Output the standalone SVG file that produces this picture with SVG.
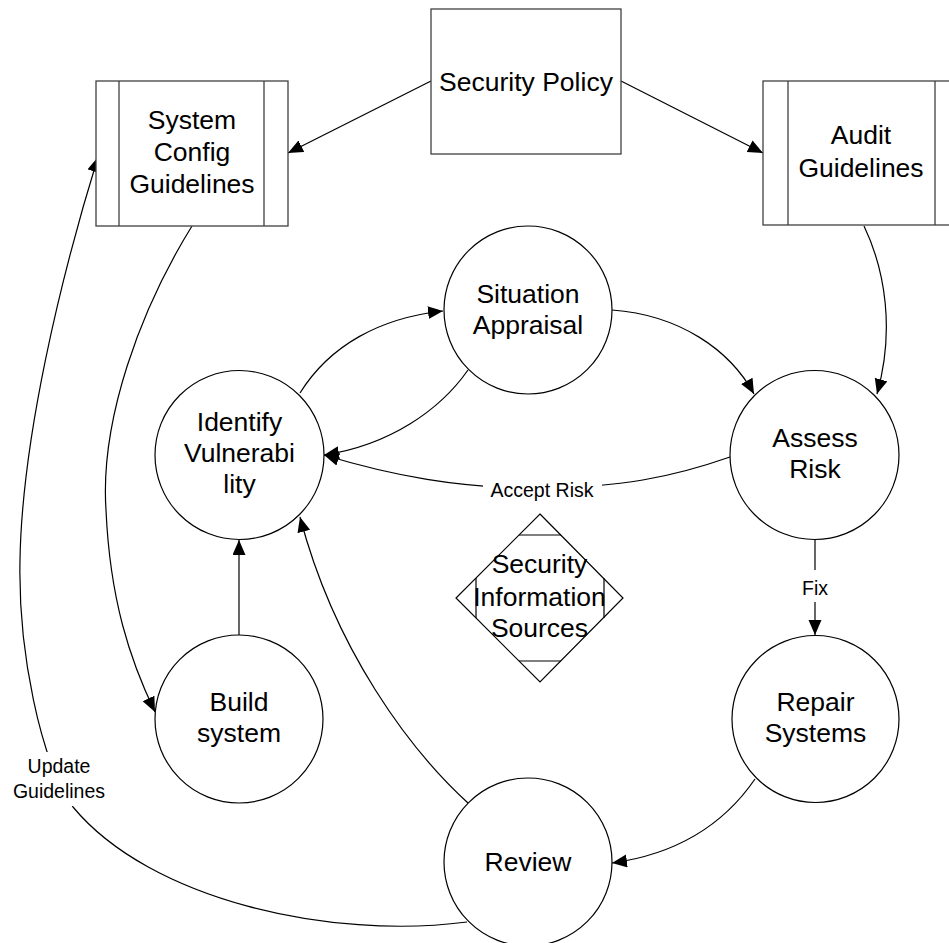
<svg xmlns="http://www.w3.org/2000/svg" width="949" height="943" viewBox="0 0 949 943">
<defs>
<style>
.box{fill:#fff;stroke:#404040;stroke-width:1.3}
.circ{fill:#fff;stroke:#000;stroke-width:1.2}
.t{font-family:"Liberation Sans",Arial,sans-serif;font-size:26.5px;fill:#000;text-anchor:middle}
.lbl{font-family:"Liberation Sans",Arial,sans-serif;font-size:19.5px;fill:#000;text-anchor:middle}
.c{fill:none;stroke:#000;stroke-width:1.2;marker-end:url(#arr)}
.plain{fill:none;stroke:#000;stroke-width:1.2}
</style>
<marker id="arr" markerUnits="userSpaceOnUse" markerWidth="16" markerHeight="14" refX="15" refY="6.5" orient="auto">
<path d="M0,0 L15,6.5 L0,13 z" fill="#000"/>
</marker>
</defs>
<rect width="949" height="943" fill="#fff"/>

<g id="connectors">
<path class="c" d="M431,81 L288,153"/>
<path class="c" d="M621,81 L763,153"/>
<path class="c" d="M192,226 C140,310 100,420 106,510 C110,600 130,660 155,712"/>
<path class="c" d="M864,226 C885,270 895,330 877,394"/>
<path class="c" d="M300,393 C330,345 380,318 443,311"/>
<path class="c" d="M468,370 C440,410 390,445 324,455"/>
<path class="c" d="M612,310 C680,315 730,350 754,394"/>
<path class="c" d="M730,457 C670,478 620,487 542,488 C460,489 390,475 324,455"/>
<path class="c" d="M815,540 L815,635"/>
<path class="c" d="M755,779 C720,830 670,855 612,863"/>
<path class="c" d="M468,803 C410,750 335,650 300,517"/>
<path class="c" d="M239,635 L239,540"/>
<path class="c" d="M467,922 C330,940 150,900 73,807 C40,760 18,650 20,560 C22,440 60,280 98,157"/>
<rect x="483" y="476" width="119" height="26" fill="#fff"/>
<text class="lbl" x="542" y="497">Accept Risk</text>
<rect x="803" y="570" width="25" height="32" fill="#fff"/>
<text class="lbl" x="815" y="595">Fix</text>
<rect x="8" y="752" width="102" height="54" fill="#fff"/>
<text class="lbl" x="59" y="773">Update</text>
<text class="lbl" x="59" y="798">Guidelines</text>
</g>

<g id="security-policy">
<rect class="box" x="431" y="9" width="190" height="145"/>
<text class="t" x="526" y="91">Security Policy</text>
</g>

<g id="system-config">
<rect class="box" x="96" y="81" width="192" height="145"/>
<line class="box" x1="119" y1="81" x2="119" y2="226"/>
<line class="box" x1="264" y1="81" x2="264" y2="226"/>
<text class="t" x="192" y="129">System</text>
<text class="t" x="192" y="161">Config</text>
<text class="t" x="192" y="193">Guidelines</text>
</g>

<g id="audit-guidelines">
<rect class="box" x="763" y="81" width="197" height="144"/>
<line class="box" x1="788" y1="81" x2="788" y2="225"/>
<line class="box" x1="935" y1="81" x2="935" y2="225"/>
<text class="t" x="861" y="144">Audit</text>
<text class="t" x="861" y="177">Guidelines</text>
</g>

<g id="situation-appraisal">
<circle class="circ" cx="528" cy="310" r="84"/>
<text class="t" x="528" y="303">Situation</text>
<text class="t" x="528" y="334">Appraisal</text>
</g>

<g id="identify-vulnerability">
<circle class="circ" cx="239.5" cy="455" r="84.5"/>
<text class="t" x="239.5" y="431">Identify</text>
<text class="t" x="239.5" y="462">Vulnerabi</text>
<text class="t" x="239.5" y="493">lity</text>
</g>

<g id="assess-risk">
<circle class="circ" cx="814.5" cy="455" r="84.5"/>
<text class="t" x="815" y="447">Assess</text>
<text class="t" x="815" y="478">Risk</text>
</g>

<g id="security-information-sources">
<polygon class="circ" points="540,514 623,598 540,682 456,598"/>
<line class="circ" x1="519" y1="535" x2="561" y2="535"/>
<line class="circ" x1="519" y1="661" x2="561" y2="661"/>
<line class="circ" x1="476" y1="578" x2="476" y2="618"/>
<line class="circ" x1="604" y1="578" x2="604" y2="618"/>
<text class="t" x="539.5" y="573">Security</text>
<text class="t" x="539.5" y="606">Information</text>
<text class="t" x="539.5" y="637">Sources</text>
</g>

<g id="build-system">
<circle class="circ" cx="239" cy="719" r="84"/>
<text class="t" x="239" y="711">Build</text>
<text class="t" x="239" y="742">system</text>
</g>

<g id="repair-systems">
<circle class="circ" cx="815.5" cy="719" r="83.5"/>
<text class="t" x="815.5" y="711">Repair</text>
<text class="t" x="815.5" y="742">Systems</text>
</g>

<g id="review">
<circle class="circ" cx="528" cy="862" r="84"/>
<text class="t" x="528" y="871">Review</text>
</g>
</svg>
